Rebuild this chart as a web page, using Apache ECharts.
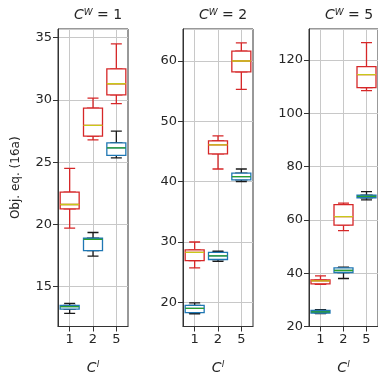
<!DOCTYPE html>
<html>
<head>
<meta charset="utf-8">
<script src="https://cdn.jsdelivr.net/npm/echarts@6/dist/echarts.min.js"></script>
<style>
  html, body { margin: 0; padding: 0; background: #fff; }
  #main { width: 378px; height: 380px; }
</style>
</head>
<body>
<div id="main"></div>
<script>
// C^l categories on the x axis
var cats = ['1', '2', '5']
// C^W value of each panel
var panelW = ['1', '2', '5']

// [min, q1, median, q3, max] for C^l = 1, 2, 5
var redW1 = [[19.7, 21.25, 21.6, 22.6, 24.5], [26.8, 27.1, 27.95, 29.35, 30.15], [29.7, 30.4, 31.3, 32.5, 34.5]]
var blueW1 = [[12.85, 13.2, 13.4, 13.5, 13.65], [17.45, 17.9, 18.8, 18.9, 19.35], [25.35, 25.55, 26.15, 26.55, 27.5]]
var redW2 = [[25.7, 26.9, 28.3, 28.7, 30.0], [42.1, 44.6, 46.1, 46.75, 47.6], [55.3, 58.2, 60.0, 61.65, 63.0]]
var blueW2 = [[18.1, 18.3, 19.0, 19.5, 19.9], [26.8, 27.1, 27.7, 28.3, 28.5], [40.0, 40.3, 40.85, 41.4, 42.1]]
var redW5 = [[35.8, 36.0, 37.1, 37.5, 39.0], [56.0, 58.0, 61.2, 65.7, 66.3], [108.5, 109.6, 114.5, 117.5, 126.5]]
var blueW5 = [[24.8, 25.0, 25.5, 26.0, 26.3], [38.0, 40.2, 41.0, 42.0, 42.3], [67.5, 68.3, 68.8, 69.3, 70.6]]

// y axis ranges of the panels
var yMin = [11.8, 16.0, 20]
var yMax = [35.7, 65.3, 131.6]

var reds = [redW1, redW2, redW5]
var blues = [blueW1, blueW2, blueW5]

var gridLeft = [58, 183, 309]
var gridW = 70
var txt = '#262626'
var font = 'DejaVu Sans'

var richC = {
  i: { fontStyle: 'italic', fontWeight: 'normal', fontSize: 14, fontFamily: font, color: txt },
  s: { fontStyle: 'italic', fontWeight: 'normal', fontSize: 9, fontFamily: font, color: txt, verticalAlign: 'top', padding: [0, 0, 6, 0] },
  n: { fontWeight: 'normal', fontSize: 14, fontFamily: font, color: txt }
}

// whiskers only (narrow box hidden under wide box)
function whiskers (d) { return d }
function boxOnly (d) { return d.map(function (r) { return [r[1], r[1], r[2], r[3], r[3]] }) }
function medOnly (d) { return d.map(function (r) { return [r[2], r[2], r[2], r[2], r[2]] }) }

var layers = [
  { src: reds, fn: whiskers, color: '#d62728', w: 11 },
  { src: reds, fn: boxOnly, color: '#d62728', w: 19 },
  { src: reds, fn: medOnly, color: '#c8c81a', w: 19 },
  { src: blues, fn: whiskers, color: '#1a1a1a', w: 11 },
  { src: blues, fn: boxOnly, color: '#1f77b4', w: 19 },
  { src: blues, fn: medOnly, color: '#2ca02c', w: 19 }
]

var grids = []
var xAxes = []
var yAxes = []
var series = []
var titles = []

for (var g = 0; g < 3; g++) {
  grids.push({
    left: gridLeft[g], width: gridW, top: 29, height: 298,
    show: true, borderColor: '#333', borderWidth: 1, backgroundColor: 'transparent'
  })
  titles.push({
    text: '{i|C}{s|W}{n| = ' + panelW[g] + '}',
    left: gridLeft[g] + gridW / 2, top: 3, textAlign: 'center',
    textStyle: { fontWeight: 'normal', rich: richC }
  })
  yAxes.push({
    type: 'value', gridIndex: g, min: yMin[g], max: yMax[g],
    name: g === 0 ? 'Obj. eq. (16a)' : '',
    nameLocation: 'middle', nameGap: 36,
    nameTextStyle: { color: txt, fontSize: 12, fontFamily: font },
    axisLine: { show: true, lineStyle: { color: '#333' } },
    axisTick: { show: true, length: 5, lineStyle: { color: '#333' } },
    axisLabel: { color: txt, fontSize: 13, fontFamily: font, margin: 6, showMinLabel: g === 2, showMaxLabel: false },
    splitLine: { show: true, lineStyle: { color: '#c8c8c8', width: 1 } }
  })
  for (var k = 0; k < layers.length; k++) {
    var first = k === 0
    xAxes.push({
      type: 'category', gridIndex: g, data: cats, show: first,
      name: first ? '{i|C}{s|l}' : '',
      nameLocation: 'middle', nameGap: 34,
      nameTextStyle: { fontWeight: 'normal', rich: richC },
      axisLine: { show: true, lineStyle: { color: '#333' } },
      axisTick: { show: true, alignWithLabel: true, length: 5, lineStyle: { color: '#333' } },
      axisLabel: { color: txt, fontSize: 13, fontFamily: font, margin: 7 },
      splitLine: { show: first, alignWithLabel: true, lineStyle: { color: '#c8c8c8', width: 1 } }
    })
    var L = layers[k]
    series.push({
      type: 'boxplot',
      xAxisIndex: g * layers.length + k,
      yAxisIndex: g,
      boxWidth: [L.w, L.w],
      silent: true,
      itemStyle: { color: '#fff', borderColor: L.color, borderWidth: 1.3 },
      data: L.fn(L.src[g])
    })
  }
}

var chart = echarts.init(document.getElementById('main'))
chart.setOption({
  animation: false,
  title: titles,
  grid: grids,
  xAxis: xAxes,
  yAxis: yAxes,
  series: series
})
</script>
</body>
</html>
